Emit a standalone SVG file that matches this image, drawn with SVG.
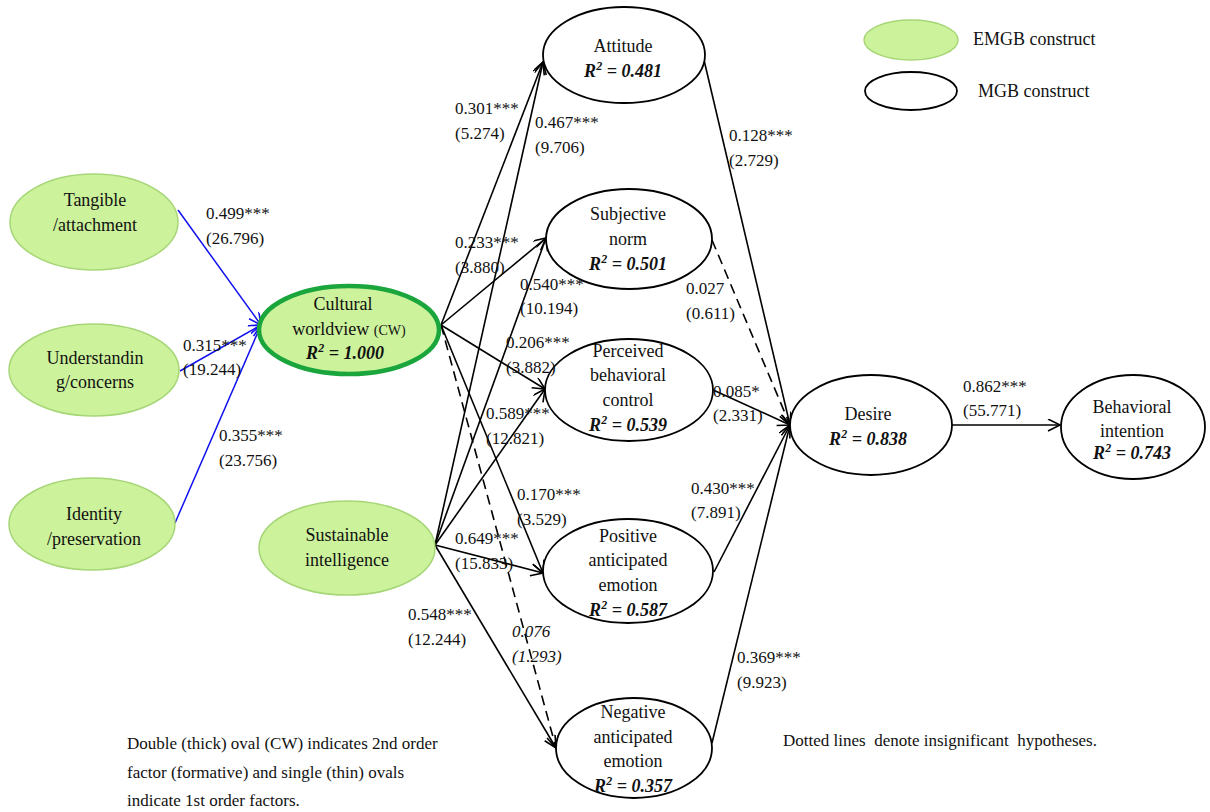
<svg xmlns="http://www.w3.org/2000/svg" width="1210" height="812" viewBox="0 0 1210 812" font-family="'Liberation Serif', 'Times New Roman', serif">
<defs>
<marker id="ah" markerUnits="userSpaceOnUse" markerWidth="16" markerHeight="14" refX="13" refY="6" orient="auto">
<path d="M1,0 L13,6 L1,12" fill="none" stroke="#000" stroke-width="1.6"/>
</marker>
<marker id="ahb" markerUnits="userSpaceOnUse" markerWidth="16" markerHeight="14" refX="13" refY="6" orient="auto">
<path d="M1,0 L13,6 L1,12" fill="none" stroke="#1010ee" stroke-width="1.6"/>
</marker>
<style>
text{font-family:"Liberation Serif","Times New Roman",serif;fill:#111;}
.n{font-size:18px;text-anchor:middle;}
.r{font-size:18px;text-anchor:middle;font-weight:bold;font-style:italic;}
.l{font-size:17px;}
.li{font-size:17px;font-style:italic;}
.e{fill:#ccf29c;stroke:#a6d676;stroke-width:1.5;}
.m{fill:#fff;stroke:#000;stroke-width:1.8;}
.cw{fill:#ccf29c;stroke:#1aa63c;stroke-width:4.5;}
.c{fill:none;stroke:#000;stroke-width:1.6;marker-end:url(#ah);}
.d{stroke-dasharray:10,6;}
.b{fill:none;stroke:#1010ee;stroke-width:1.5;marker-end:url(#ahb);}
</style>
</defs>
<rect width="1210" height="812" fill="#fff"/>

<g id="connectors">
<line class="b" x1="178" y1="210" x2="261" y2="325"/>
<line class="b" x1="180" y1="371" x2="261" y2="325"/>
<line class="b" x1="175" y1="523" x2="261" y2="325"/>
<line class="c" x1="441" y1="325" x2="543" y2="62"/>
<line class="c" x1="441" y1="325" x2="546" y2="238"/>
<line class="c" x1="441" y1="325" x2="545" y2="389"/>
<line class="c" x1="441" y1="325" x2="543" y2="573"/>
<line class="c d" x1="441" y1="325" x2="556" y2="748"/>
<line class="c" x1="435" y1="545" x2="543" y2="62"/>
<line class="c" x1="435" y1="545" x2="546" y2="238"/>
<line class="c" x1="435" y1="545" x2="545" y2="389"/>
<line class="c" x1="435" y1="545" x2="543" y2="573"/>
<line class="c" x1="435" y1="545" x2="556" y2="748"/>
<line class="c" x1="704" y1="60" x2="790" y2="425"/>
<line class="c d" x1="712" y1="240" x2="790" y2="425"/>
<line class="c" x1="711" y1="389" x2="790" y2="425"/>
<line class="c" x1="714" y1="572" x2="790" y2="425"/>
<line class="c" x1="712" y1="743" x2="790" y2="425"/>
<line class="c" x1="952" y1="425" x2="1060" y2="425"/>
</g>

<g id="legend-emgb"><ellipse class="e" cx="911" cy="40" rx="47" ry="20"/><text class="l" x="973" y="45" style="font-size:18px">EMGB construct</text></g>
<g id="legend-mgb"><ellipse class="m" cx="911" cy="91" rx="46" ry="19" stroke-width="1.5"/><text class="l" x="978" y="97" style="font-size:18px">MGB construct</text></g>

<g id="tangible"><ellipse class="e" cx="94" cy="222" rx="84" ry="48"/><text class="n" x="95" y="206">Tangible</text><text class="n" x="95" y="231">/attachment</text></g>
<g id="understanding"><ellipse class="e" cx="94" cy="370" rx="85" ry="46"/><text class="n" x="95" y="364">Understandin</text><text class="n" x="95" y="388">g/concerns</text></g>
<g id="identity"><ellipse class="e" cx="92" cy="524" rx="83" ry="46"/><text class="n" x="94" y="520">Identity</text><text class="n" x="94" y="545">/preservation</text></g>
<g id="cw"><ellipse class="cw" cx="349" cy="330" rx="90" ry="44"/><text class="n" x="343" y="310">Cultural</text><text class="n" x="349" y="335">worldview <tspan style="font-size:14px">(CW)</tspan></text><text class="r" x="345" y="359">R<tspan style="font-size:12px" dy="-7">2</tspan><tspan dy="7"> = 1.000</tspan></text></g>
<g id="si"><ellipse class="e" cx="347" cy="548" rx="88" ry="47"/><text class="n" x="347" y="541">Sustainable</text><text class="n" x="347" y="566">intelligence</text></g>

<g id="attitude"><ellipse class="m" cx="624" cy="55" rx="81" ry="48"/><text class="n" x="623" y="52">Attitude</text><text class="r" x="623" y="77">R<tspan style="font-size:12px" dy="-7">2</tspan><tspan dy="7"> = 0.481</tspan></text></g>
<g id="sn"><ellipse class="m" cx="629" cy="239" rx="83" ry="50"/><text class="n" x="628" y="220">Subjective</text><text class="n" x="628" y="245">norm</text><text class="r" x="628" y="270">R<tspan style="font-size:12px" dy="-7">2</tspan><tspan dy="7"> = 0.501</tspan></text></g>
<g id="pbc"><ellipse class="m" cx="629" cy="390" rx="84" ry="51"/><text class="n" x="628" y="357">Perceived</text><text class="n" x="628" y="381">behavioral</text><text class="n" x="628" y="406">control</text><text class="r" x="628" y="431">R<tspan style="font-size:12px" dy="-7">2</tspan><tspan dy="7"> = 0.539</tspan></text></g>
<g id="pae"><ellipse class="m" cx="628" cy="571" rx="85" ry="52"/><text class="n" x="628" y="542">Positive</text><text class="n" x="628" y="566">anticipated</text><text class="n" x="628" y="591">emotion</text><text class="r" x="628" y="616">R<tspan style="font-size:12px" dy="-7">2</tspan><tspan dy="7"> = 0.587</tspan></text></g>
<g id="nae"><ellipse class="m" cx="634" cy="748" rx="78" ry="50"/><text class="n" x="633" y="718">Negative</text><text class="n" x="633" y="743">anticipated</text><text class="n" x="633" y="767">emotion</text><text class="r" x="633" y="792">R<tspan style="font-size:12px" dy="-7">2</tspan><tspan dy="7"> = 0.357</tspan></text></g>
<g id="desire"><ellipse class="m" cx="871" cy="425" rx="81" ry="50"/><text class="n" x="868" y="420">Desire</text><text class="r" x="868" y="445">R<tspan style="font-size:12px" dy="-7">2</tspan><tspan dy="7"> = 0.838</tspan></text></g>
<g id="bi"><ellipse class="m" cx="1133" cy="427" rx="72" ry="52"/><text class="n" x="1132" y="413">Behavioral</text><text class="n" x="1132" y="437">intention</text><text class="r" x="1132" y="459">R<tspan style="font-size:12px" dy="-7">2</tspan><tspan dy="7"> = 0.743</tspan></text></g>

<g id="labels">
<text class="l" x="206" y="219">0.499***</text><text class="l" x="206" y="244">(26.796)</text>
<text class="l" x="183" y="351">0.315***</text><text class="l" x="183" y="375">(19.244)</text>
<text class="l" x="219" y="441">0.355***</text><text class="l" x="219" y="466">(23.756)</text>
<text class="l" x="455" y="114">0.301***</text><text class="l" x="455" y="139">(5.274)</text>
<text class="l" x="535" y="128">0.467***</text><text class="l" x="535" y="153">(9.706)</text>
<text class="l" x="455" y="248">0.233***</text><text class="l" x="455" y="273">(3.880)</text>
<text class="l" x="520" y="290">0.540***</text><text class="l" x="520" y="314">(10.194)</text>
<text class="l" x="506" y="348">0.206***</text><text class="l" x="506" y="373">(3.882)</text>
<text class="l" x="486" y="419">0.589***</text><text class="l" x="486" y="444">(12.821)</text>
<text class="l" x="517" y="500">0.170***</text><text class="l" x="517" y="525">(3.529)</text>
<text class="l" x="455" y="544">0.649***</text><text class="l" x="455" y="569">(15.833)</text>
<text class="l" x="408" y="620">0.548***</text><text class="l" x="408" y="645">(12.244)</text>
<text class="li" x="512" y="637">0.076</text><text class="li" x="512" y="662">(1.293)</text>
<text class="l" x="729" y="141">0.128***</text><text class="l" x="729" y="166">(2.729)</text>
<text class="l" x="686" y="294">0.027</text><text class="l" x="686" y="319">(0.611)</text>
<text class="l" x="713" y="397">0.085*</text><text class="l" x="713" y="421">(2.331)</text>
<text class="l" x="691" y="494">0.430***</text><text class="l" x="691" y="518">(7.891)</text>
<text class="l" x="737" y="663">0.369***</text><text class="l" x="737" y="688">(9.923)</text>
<text class="l" x="963" y="392">0.862***</text><text class="l" x="963" y="416">(55.771)</text>
</g>

<g id="notes">
<text class="l" x="127" y="749">Double (thick) oval (CW) indicates 2nd order</text>
<text class="l" x="127" y="778">factor (formative) and single (thin) ovals</text>
<text class="l" x="127" y="806">indicate 1st order factors.</text>
<text class="l" x="783" y="746" xml:space="preserve">Dotted lines  denote insignificant  hypotheses.</text>
</g>
</svg>
